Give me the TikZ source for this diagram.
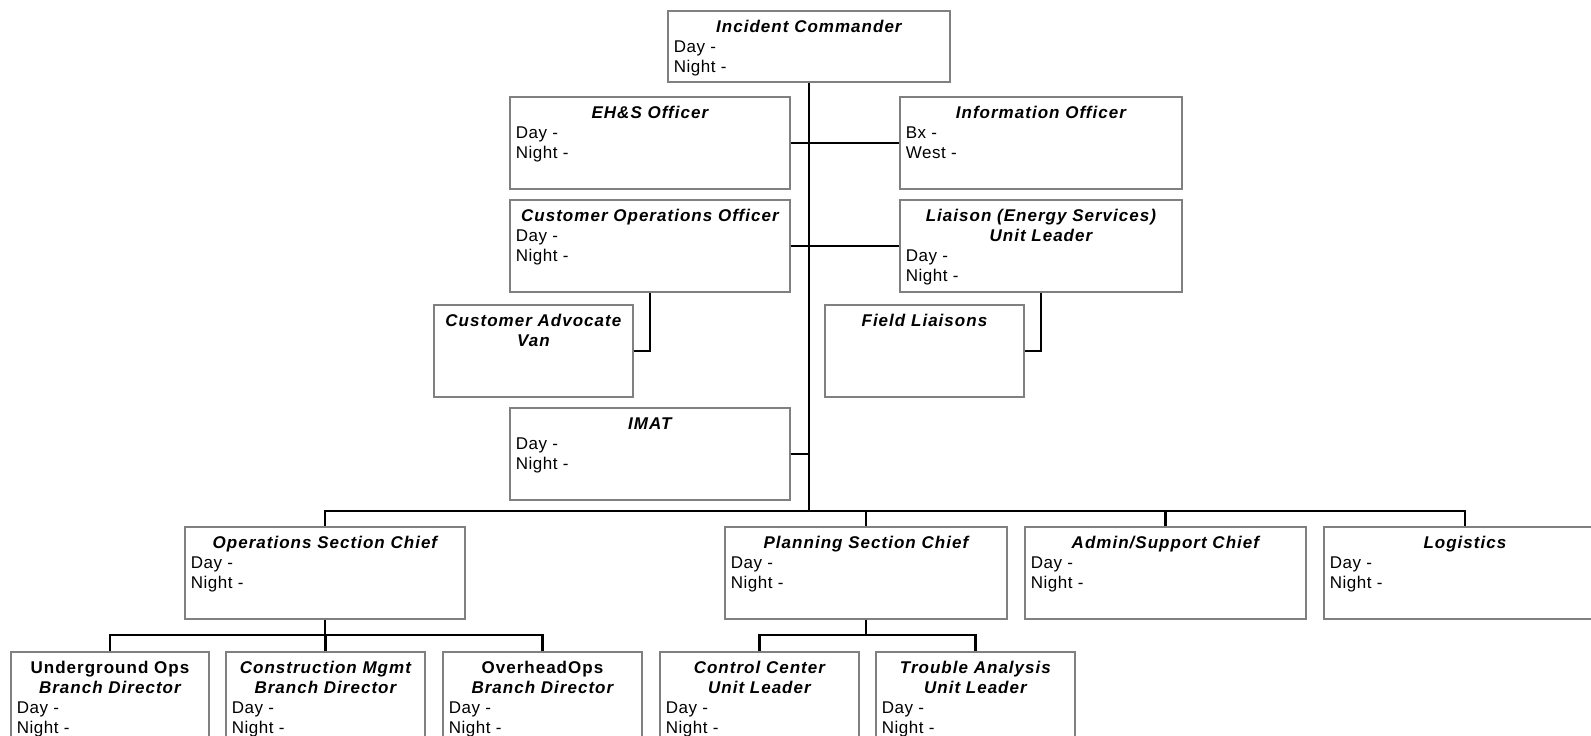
\documentclass[tikz,border=0pt]{standalone}
\usepackage{fontspec}
\setmainfont{Liberation Sans}[LetterSpace=3]
\newfontfamily\headfont{Liberation Sans}[LetterSpace=6]
\usetikzlibrary{calc}
\newcommand{\hd}[1]{{\headfont\bfseries\itshape #1}}
\newcommand{\card}[4]{\parbox[t][#2][t]{#1}{{\centering\strut\hd{#3}\par}\raggedright #4}}

\begin{document}
\begin{tikzpicture}[x=1pt, y=-1pt,
    post/.style={draw=black!50, line width=1.8pt, fill=white, anchor=north west,
        inner xsep=6pt, inner ysep=8pt, font=\fontsize{17}{20}\selectfont},
    link/.style={line width=2.2pt}]
\useasboundingbox (0,0) rectangle (1591,736);
\clip (0,0) rectangle (1591,736);

% command staff
\node[post] (ic) at (667,10) {\card{270pt}{55pt}{Incident Commander}{Day -\\Night -}};
\node[post] (ehs) at (509,96) {\card{268pt}{76pt}{EH\&S Officer}{Day -\\Night -}};
\node[post] (info) at (899,96) {\card{270pt}{76pt}{Information Officer}{Bx -\\West -}};
\node[post] (cops) at (509,199) {\card{268pt}{76pt}{Customer Operations Officer}{Day -\\Night -}};
\node[post] (liaison) at (899,199) {\card{270pt}{76pt}{Liaison (Energy Services)\\Unit Leader}{Day -\\Night -}};
\node[post] (advocate) at (433,304) {\card{187pt}{76pt}{Customer Advocate\\Van}{}};
\node[post] (field) at (824,304) {\card{187pt}{76pt}{Field Liaisons}{}};
\node[post] (imat) at (509,407) {\card{268pt}{76pt}{IMAT}{Day -\\Night -}};

% general staff
\node[post] (ops) at (184,526) {\card{268pt}{76pt}{Operations Section Chief}{Day -\\Night -}};
\node[post] (plan) at (724,526) {\card{270pt}{76pt}{Planning Section Chief}{Day -\\Night -}};
\node[post] (admin) at (1024,526) {\card{269pt}{76pt}{Admin/Support Chief}{Day -\\Night -}};
\node[post] (logi) at (1323,526) {\card{270pt}{76pt}{Logistics}{Day -\\Night -}};

% branches and units
\node[post] (ug) at (10,651) {\card{186pt}{90pt}{{\upshape Underground Ops}\\Branch Director}{Day -\\Night -}};
\node[post] (cm) at (225,651) {\card{187pt}{90pt}{Construction Mgmt\\Branch Director}{Day -\\Night -}};
\node[post] (oh) at (442,651) {\card{187pt}{90pt}{{\upshape OverheadOps}\\Branch Director}{Day -\\Night -}};
\node[post] (cc) at (659,651) {\card{187pt}{90pt}{Control Center\\Unit Leader}{Day -\\Night -}};
\node[post] (ta) at (875,651) {\card{187pt}{90pt}{Trouble Analysis\\Unit Leader}{Day -\\Night -}};

\coordinate (bus) at (808,511);
\coordinate (opsbus) at (ops.south |- 0,635);
\coordinate (planbus) at (plan.south |- 0,635);

\draw[link, line width=2.8pt] (ic.south) -- (ic.south |- bus);
\draw[link] (ehs.east) -- (info.west);
\draw[link] (cops.east) -- (liaison.west);
\draw[link] (cops.south) |- (advocate.east);
\draw[link] (liaison.south) |- (field.east);
\draw[link] (imat.east) -- (imat.east -| ic.south);

\draw[link] (ops.north) |- (bus) -| (logi.north);
\draw[link] (plan.north) -- (plan.north |- bus);
\draw[link] (admin.north) -- (admin.north |- bus);

\draw[link] (ops.south) -- (opsbus);
\draw[link] (ug.north) |- (opsbus) -| (oh.north);
\draw[link] (cm.north) -- (cm.north |- opsbus);

\draw[link] (plan.south) -- (planbus);
\draw[link] (cc.north) |- (planbus) -| (ta.north);
\end{tikzpicture}
\end{document}
